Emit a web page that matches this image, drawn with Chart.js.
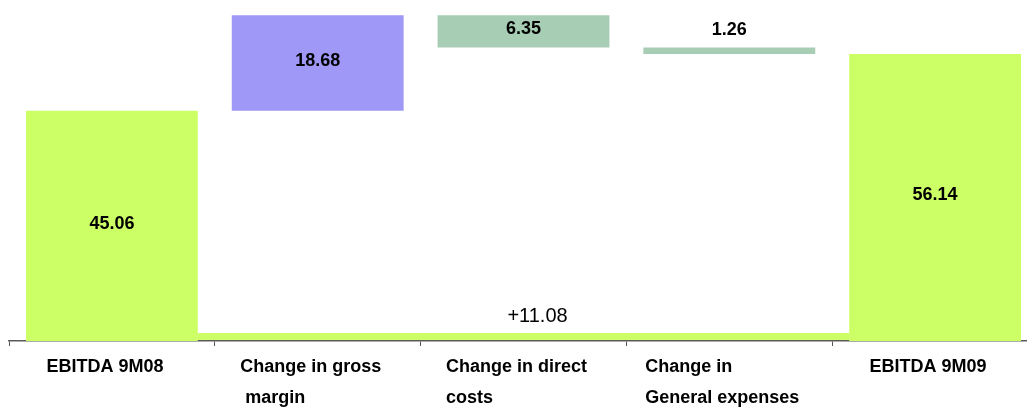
<!DOCTYPE html>
<html>
<head>
<meta charset="utf-8">
<script src="https://cdn.jsdelivr.net/npm/chart.js@4.4.0/dist/chart.umd.min.js"></script>
<style>
  html, body { margin: 0; padding: 0; background: #fff; overflow: hidden; }
  #wrap { position: relative; width: 1038px; height: 407px; }
</style>
</head>
<body>
<div id="wrap"><canvas id="waterfall"></canvas></div>
<script>
// category labels, one array per category (lines)
var categories = [
    ['EBITDA 9M08'],
    ['Change in gross', ' margin'],
    ['Change in direct', 'costs'],
    ['Change in', 'General expenses'],
    ['EBITDA 9M09']
];
var startValue = 45.06;
var changes = [18.68, -6.35, -1.26];
var endValue = 56.14;
var barColors = ['#CCFF66', '#9F98F6', '#A7CDB4', '#A7CDB4', '#CCFF66'];

// floating bars as [from, to]
var floating = [[0, startValue]];
var running = startValue;
changes.forEach(function (c) {
    floating.push([running, running + c]);
    running += c;
});
floating.push([0, endValue]);
var barLabels = [startValue].concat(changes.map(Math.abs), [endValue]);
var netChange = endValue - startValue;

// draws value labels, the net change strip and the category labels
var waterfallText = {
    id: 'waterfallText',
    afterDatasetsDraw: function (chart) {
        var ctx = chart.ctx;
        var meta = chart.getDatasetMeta(0);
        var xs = chart.scales.x, ys = chart.scales.y;
        ctx.save();

        // net change strip between first and last bar
        var first = meta.data[0], last = meta.data[meta.data.length - 1];
        var x0 = first.x + first.width / 2, x1 = last.x - last.width / 2;
        var y0 = ys.getPixelForValue(0);
        ctx.fillStyle = '#CCFF66';
        ctx.fillRect(x0, y0 - 8, x1 - x0, 7);
        ctx.fillStyle = '#000';
        ctx.font = '20px "Liberation Sans", Arial, sans-serif';
        ctx.textAlign = 'center';
        ctx.textBaseline = 'middle';
        ctx.fillText('+' + netChange.toFixed(2), (x0 + x1) / 2 + 14, y0 - 25);

        // bar values
        ctx.font = 'bold 18px "Liberation Sans", Arial, sans-serif';
        meta.data.forEach(function (bar, i) {
            var top = Math.min(bar.y, bar.base);
            var h = Math.abs(bar.base - bar.y);
            var ty = h > 25 ? top + h / 2 - 2 : top - 18;
            ctx.fillText(barLabels[i].toFixed(2), bar.x, ty);
        });

        // category labels, left aligned block
        ctx.textAlign = 'left';
        ctx.textBaseline = 'alphabetic';
        categories.forEach(function (lines, i) {
            var w = Math.max.apply(null, lines.map(function (l) { return ctx.measureText(l).width; }));
            var lx = xs.getPixelForValue(i) - 7 - w / 2;
            lines.forEach(function (l, j) {
                ctx.fillText(l, lx, xs.bottom + 26 + j * 31);
            });
        });
        ctx.restore();
    }
};

new Chart(document.getElementById('waterfall'), {
    type: 'bar',
    data: {
        labels: categories.map(function (l) { return l.join(' '); }),
        datasets: [{
            data: floating,
            backgroundColor: barColors,
            borderWidth: 0,
            borderSkipped: false,
            barPercentage: 0.835,
            categoryPercentage: 1
        }]
    },
    options: {
        responsive: true,
        maintainAspectRatio: false,
        animation: false,
        layout: { padding: { left: 9, right: 0, top: 0, bottom: 61 } },
        plugins: {
            legend: { display: false },
            tooltip: { enabled: false }
        },
        scales: {
            x: {
                grid: { offset: true, drawOnChartArea: false, drawTicks: true, tickLength: 5, color: '#555' },
                border: { color: '#5a5a5a', width: 1.5 },
                ticks: { display: false }
            },
            y: { display: false, min: 0, max: 66.7 }
        }
    },
    plugins: [waterfallText]
});
</script>
</body>
</html>
